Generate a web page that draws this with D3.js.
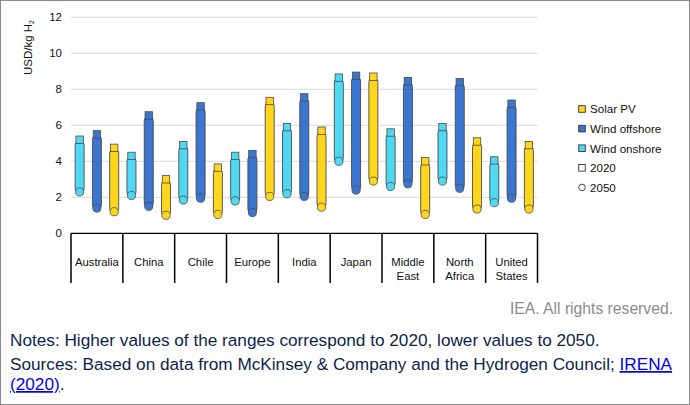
<!DOCTYPE html>
<html>
<head>
<meta charset="utf-8">
<script src="https://cdn.jsdelivr.net/npm/d3@7"></script>
<style>
  body { margin: 0; background: #fff; }
  svg { display: block; font-family: "Liberation Sans", Arial, sans-serif; }
</style>
</head>
<body>
<div id="chart"></div>
<script>
// data (USD/kg H2)
const categories = ["Australia", "China", "Chile", "Europe", "India", "Japan", "Middle East", "North Africa", "United States"];
const series = ["Wind onshore", "Wind offshore", "Solar PV"];
const onshore2020  = [5.2, 4.3, 4.9, 4.3, 5.9, 8.65, 5.6, 5.9, 4.05];
const onshore2050  = [2.3, 2.1, 1.85, 1.8, 2.2, 4.0, 2.6, 2.9, 1.7];
const offshore2020 = [5.5, 6.55, 7.05, 4.4, 7.55, 8.75, 8.45, 8.4, 7.2];
const offshore2050 = [1.4, 1.5, 1.95, 1.15, 2.05, 2.4, 2.75, 2.5, 1.95];
const solar2020    = [4.75, 3.0, 3.65, 7.35, 5.7, 8.7, 4.0, 5.1, 4.9];
const solar2050    = [1.2, 1.0, 1.05, 2.05, 1.45, 2.9, 1.05, 1.35, 1.35];
const yTicks = [0, 2, 4, 6, 8, 10, 12];
const legendItems = ["Solar PV", "Wind offshore", "Wind onshore", "2020", "2050"];

const colors = {"Wind onshore": "#4fd8f4", "Wind offshore": "#3a76d0", "Solar PV": "#ffd61c"};
const values = {
  "Wind onshore": [onshore2020, onshore2050],
  "Wind offshore": [offshore2020, offshore2050],
  "Solar PV": [solar2020, solar2050]
};

const W = 690, H = 405;
const svg = d3.select("#chart").append("svg")
  .attr("width", W).attr("height", H);

// frame
svg.append("rect")
  .attr("x", 0.5).attr("y", 0.5)
  .attr("width", W - 1).attr("height", H - 1)
  .attr("fill", "#fff").attr("stroke", "#8a8a8a");

let margin = {left: 71, right: 537.5, top: 17.3, bottom: 233.3};

let y = d3.scaleLinear().domain([0, 12]).range([margin.bottom, margin.top]);
let x = d3.scaleBand().domain(categories).range([margin.left, margin.right]);
let xs = d3.scalePoint().domain(series).range([0, x.bandwidth()]).padding(0.5);

// gridlines
svg.append("g")
  .selectAll("line")
  .data(yTicks.filter(d => d > 0))
  .enter()
  .append("line")
    .attr("x1", margin.left).attr("x2", margin.right)
    .attr("y1", d => y(d)).attr("y2", d => y(d))
    .attr("stroke", "#d9d9d9").attr("stroke-width", 1);

// y axis labels
let yAxis = svg.append("g")
  .attr("transform", "translate(" + (margin.left - 8) + ",0)")
  .call(d3.axisLeft(y).tickValues(yTicks).tickSize(0).tickPadding(1));
yAxis.select(".domain").remove();
yAxis.selectAll("text")
  .attr("font-size", "11.5px")
  .attr("font-family", "Liberation Sans, Arial, sans-serif")
  .attr("fill", "#111");

// y axis title
let ytitle = svg.append("text")
  .attr("transform", "translate(32,20) rotate(-90)")
  .attr("text-anchor", "end")
  .attr("font-size", "11.5px")
  .attr("fill", "#111");
ytitle.append("tspan").text("USD/kg H");
ytitle.append("tspan").attr("font-size", "7px").attr("dy", 2).text("2");

// category box
svg.append("line")
  .attr("x1", margin.left).attr("x2", margin.right)
  .attr("y1", margin.bottom).attr("y2", margin.bottom)
  .attr("stroke", "#000").attr("stroke-width", 1.3);
let bounds = categories.map(c => x(c)).concat([margin.right]);
svg.append("g")
  .selectAll("line")
  .data(bounds)
  .enter()
  .append("line")
    .attr("x1", d => d).attr("x2", d => d)
    .attr("y1", margin.bottom).attr("y2", 283)
    .attr("stroke", "#000").attr("stroke-width", 1.5);

let catLabels = svg.append("g")
  .selectAll("text")
  .data(categories)
  .enter()
  .append("text")
    .attr("y", 266)
    .attr("text-anchor", "middle")
    .attr("font-size", "11.3px")
    .attr("fill", "#111");
catLabels.each(function(d) {
  let words = d.split(" ");
  let t = d3.select(this);
  words.forEach((w, i) => {
    t.append("tspan")
      .attr("x", x(d) + x.bandwidth() / 2)
      .attr("dy", i == 0 ? 0 : 13.5)
      .text(w);
  });
});

// range bars
series.forEach(s => {
  let v2020 = values[s][0], v2050 = values[s][1];
  let g = svg.append("g");
  let barW = 9;
  g.selectAll("rect.bar")
    .data(categories)
    .enter()
    .append("rect")
      .attr("class", "bar")
      .attr("x", d => x(d) + xs(s) - barW / 2)
      .attr("y", (d, i) => y(v2020[i]) + 2)
      .attr("width", barW)
      .attr("height", (d, i) => y(v2050[i]) - y(v2020[i]) - 2)
      .attr("rx", 3)
      .attr("fill", colors[s])
      .attr("stroke", "#4a4a4a")
      .attr("stroke-width", 0.9);
  g.selectAll("rect.sq")
    .data(categories)
    .enter()
    .append("rect")
      .attr("class", "sq")
      .attr("x", d => x(d) + xs(s) - 3.7)
      .attr("y", (d, i) => y(v2020[i]) - 3.7)
      .attr("width", 7.4)
      .attr("height", 7.4)
      .attr("fill", colors[s])
      .attr("stroke", "#4a4a4a")
      .attr("stroke-width", 0.8);
  g.selectAll("circle")
    .data(categories)
    .enter()
    .append("circle")
      .attr("cx", d => x(d) + xs(s))
      .attr("cy", (d, i) => y(v2050[i]))
      .attr("r", 4.1)
      .attr("fill", colors[s])
      .attr("stroke", "#4a4a4a")
      .attr("stroke-width", 0.8);
});

// legend
let legend = svg.append("g").attr("transform", "translate(582,109)");
legendItems.forEach((name, i) => {
  let row = legend.append("g").attr("transform", "translate(0," + (i * 19.6) + ")");
  let fill = colors[name] || "#fff";
  if (name == "2050") {
    row.append("circle").attr("cx", 0).attr("cy", 0).attr("r", 3.3)
      .attr("fill", fill).attr("stroke", "#333").attr("stroke-width", 0.9);
  } else {
    row.append("rect").attr("x", -3.3).attr("y", -3.3).attr("width", 6.6).attr("height", 6.6)
      .attr("fill", fill).attr("stroke", "#333").attr("stroke-width", 0.9);
  }
  row.append("text")
    .attr("x", 8).attr("y", 4.3)
    .attr("font-size", "11.6px")
    .attr("fill", "#111")
    .text(name);
});

// credits and notes
svg.append("text")
  .attr("x", 673).attr("y", 314)
  .attr("text-anchor", "end")
  .attr("font-size", "15.7px")
  .attr("fill", "#8c8c8c")
  .text("IEA. All rights reserved.");

svg.append("text")
  .attr("x", 10).attr("y", 346)
  .attr("font-size", "17.2px")
  .attr("fill", "#0d1f4c")
  .text("Notes: Higher values of the ranges correspond to 2020, lower values to 2050.");

let src = svg.append("text")
  .attr("x", 10).attr("y", 370)
  .attr("font-size", "17.2px")
  .attr("fill", "#0d1f4c");
src.append("tspan").text("Sources: Based on data from McKinsey & Company and the Hydrogen Council; ");
src.append("tspan").attr("fill", "#0000ee").attr("text-decoration", "underline").text("IRENA");
let src2 = svg.append("text")
  .attr("x", 10).attr("y", 390)
  .attr("font-size", "17.2px")
  .attr("fill", "#0d1f4c");
src2.append("tspan").attr("fill", "#0000ee").attr("text-decoration", "underline").text("(2020)");
src2.append("tspan").text(".");
</script>
</body>
</html>
